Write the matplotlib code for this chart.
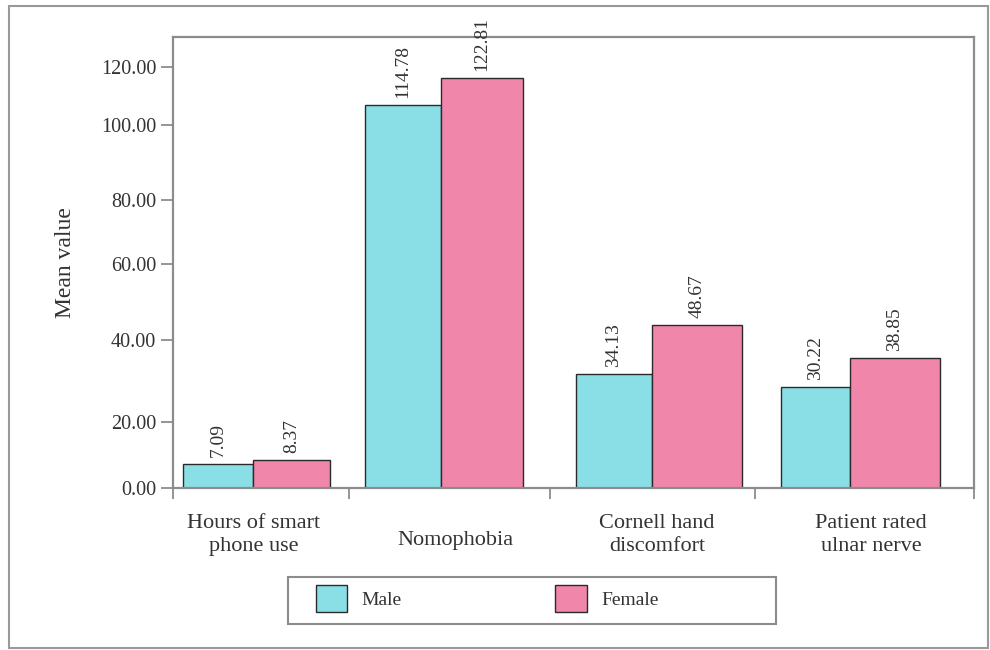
import matplotlib
matplotlib.use("Agg")
import matplotlib.pyplot as plt
from matplotlib.patches import Patch, Rectangle
from matplotlib.transforms import blended_transform_factory

plt.rcParams['font.family'] = ['Liberation Serif', 'DejaVu Serif']

# ---- data ----
categories = ["Hours of smart\nphone use", "Nomophobia", "Cornell hand\ndiscomfort", "Patient rated\nulnar nerve"]
male = [7.09, 114.78, 34.13, 30.22]
female = [8.37, 122.81, 48.67, 38.85]
series_names = ["Male", "Female"]
ytick_labels = ["0.00", "20.00", "40.00", "60.00", "80.00", "100.00", "120.00"]
# tick positions as drawn in the reference figure (irregular spacing)
ytick_pos = [0, 19.8, 44.3, 67.1, 86.2, 108.7, 126.0]

# ---- layout / style ----
group_pos = [0.0, 0.945, 2.005, 3.0]          # male/female junction of each group
label_pos = [0.005, 1.015, 2.03, 3.106]        # category label centres
label_dy = [0.0, -0.012, 0.0, 0.0]
sep_pos = [0.482, 1.492, 2.523]
w_male = [0.352, 0.382, 0.382, 0.347]
w_female = [0.387, 0.412, 0.452, 0.452]
c_male = "#8adfe6"
c_female = "#f086aa"
edge = "#2a2a2a"
grey = "#8c8c8c"
txt = "#333333"

W, H = 990, 650
fig = plt.figure(figsize=(W / 100, H / 100), dpi=100)
ax = fig.add_axes([173 / W, 1 - 488 / H, 801 / W, 451 / H])

b1 = ax.bar(group_pos, male, width=[-w for w in w_male], align='edge',
            color=c_male, edgecolor=edge, linewidth=1.0)
b2 = ax.bar(group_pos, female, width=w_female, align='edge',
            color=c_female, edgecolor=edge, linewidth=1.0)

ax.bar_label(b1, fmt='%.2f', rotation=90, padding=5, fontsize=14, color=txt)
ax.bar_label(b2, fmt='%.2f', rotation=90, padding=5, fontsize=14, color=txt)

xl0, xl1 = -0.402, 3.623
ax.set_xlim(xl0, xl1)
ax.set_ylim(0, 135)

ax.set_yticks(ytick_pos)
ax.set_yticklabels(ytick_labels, fontsize=14.5, color=txt)
ax.tick_params(axis='y', length=8.5, width=1.3, color=grey, pad=3.5)

ax.set_xticks([])
ax.set_xticks([xl0] + sep_pos + [xl1], minor=True)
ax.tick_params(axis='x', which='minor', length=8, width=1.3, color=grey)

for s in ax.spines.values():
    s.set_color(grey)
    s.set_linewidth(1.6)

trans = blended_transform_factory(ax.transData, ax.transAxes)
for lab, xc, dy in zip(categories, label_pos, label_dy):
    ax.text(xc, -0.104 + dy, lab, transform=trans, ha='center', va='center',
            fontsize=16, color=txt, linespacing=1.3, multialignment='center')

ax.set_ylabel("Mean value", fontsize=17, color=txt)
ax.yaxis.set_label_coords(-0.121, 0.5)

# legend
handles = [Patch(facecolor=c_male, edgecolor=edge, linewidth=1.0),
           Patch(facecolor=c_female, edgecolor=edge, linewidth=1.0)]
leg = fig.legend(handles, series_names, loc='upper left',
                 bbox_to_anchor=(316 / W, 1 - 585 / H), ncol=2, frameon=False,
                 borderpad=0, borderaxespad=0, handlelength=1.6, handleheight=1.76,
                 handletextpad=0.75, columnspacing=7.9, fontsize=14)
for t in leg.get_texts():
    t.set_color(txt)
fig.add_artist(Rectangle((288 / W, 1 - 624 / H), 488 / W, 47 / H, transform=fig.transFigure,
                         fill=False, edgecolor=grey, linewidth=1.5))

# outer frame
fig.add_artist(Rectangle((9 / W, 2 / H), 979 / W, 642 / H, transform=fig.transFigure,
                         fill=False, edgecolor="#999999", linewidth=1.5))

fig.savefig("out.png", dpi=100)
